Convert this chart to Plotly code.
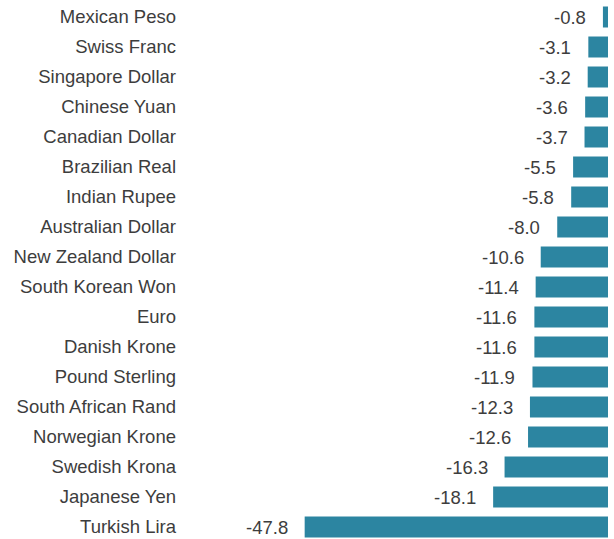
import plotly.graph_objects as go

# Currency performance vs. USD, percent change
currencies = [
    "Mexican Peso", "Swiss Franc", "Singapore Dollar", "Chinese Yuan",
    "Canadian Dollar", "Brazilian Real", "Indian Rupee", "Australian Dollar",
    "New Zealand Dollar", "South Korean Won", "Euro", "Danish Krone",
    "Pound Sterling", "South African Rand", "Norwegian Krone",
    "Swedish Krona", "Japanese Yen", "Turkish Lira",
]
changes = [
    -0.8, -3.1, -3.2, -3.6, -3.7, -5.5, -5.8, -8.0, -10.6, -11.4,
    -11.6, -11.6, -11.9, -12.3, -12.6, -16.3, -18.1, -47.8,
]

BAR_COLOR = "#2C85A1"
LABEL_COLOR = "#3d3d3d"
FONT = "Liberation Sans, Arial, sans-serif"
FONT_SIZE = 18.5

fig = go.Figure(
    go.Bar(
        x=changes,
        y=currencies,
        orientation="h",
        marker=dict(color=BAR_COLOR, line=dict(width=0)),
        hoverinfo="skip",
    )
)

# value labels sit just left of each bar's end
for name, val in zip(currencies, changes):
    fig.add_annotation(
        x=val, y=name, xref="x", yref="y",
        text=f"{val:.1f}", showarrow=False,
        xanchor="right", yanchor="middle", xshift=-15,
        font=dict(family=FONT, size=FONT_SIZE, color=LABEL_COLOR),
    )

fig.update_layout(
    width=614, height=539,
    margin=dict(l=186, r=6, t=0, b=0),
    paper_bgcolor="white", plot_bgcolor="white",
    bargap=0.3,
    showlegend=False,
    font=dict(family=FONT, size=FONT_SIZE, color=LABEL_COLOR),
    xaxis=dict(
        range=[-66.5, 0], showgrid=False, zeroline=False,
        showticklabels=False, showline=False, ticks="",
    ),
    yaxis=dict(
        type="category", categoryorder="array", categoryarray=currencies,
        range=[17.4, -0.5667], showgrid=False, zeroline=False,
        showline=False, ticks="", ticklabelstandoff=9,
        tickfont=dict(family=FONT, size=FONT_SIZE, color=LABEL_COLOR),
    ),
)

fig.write_html("out.html")
